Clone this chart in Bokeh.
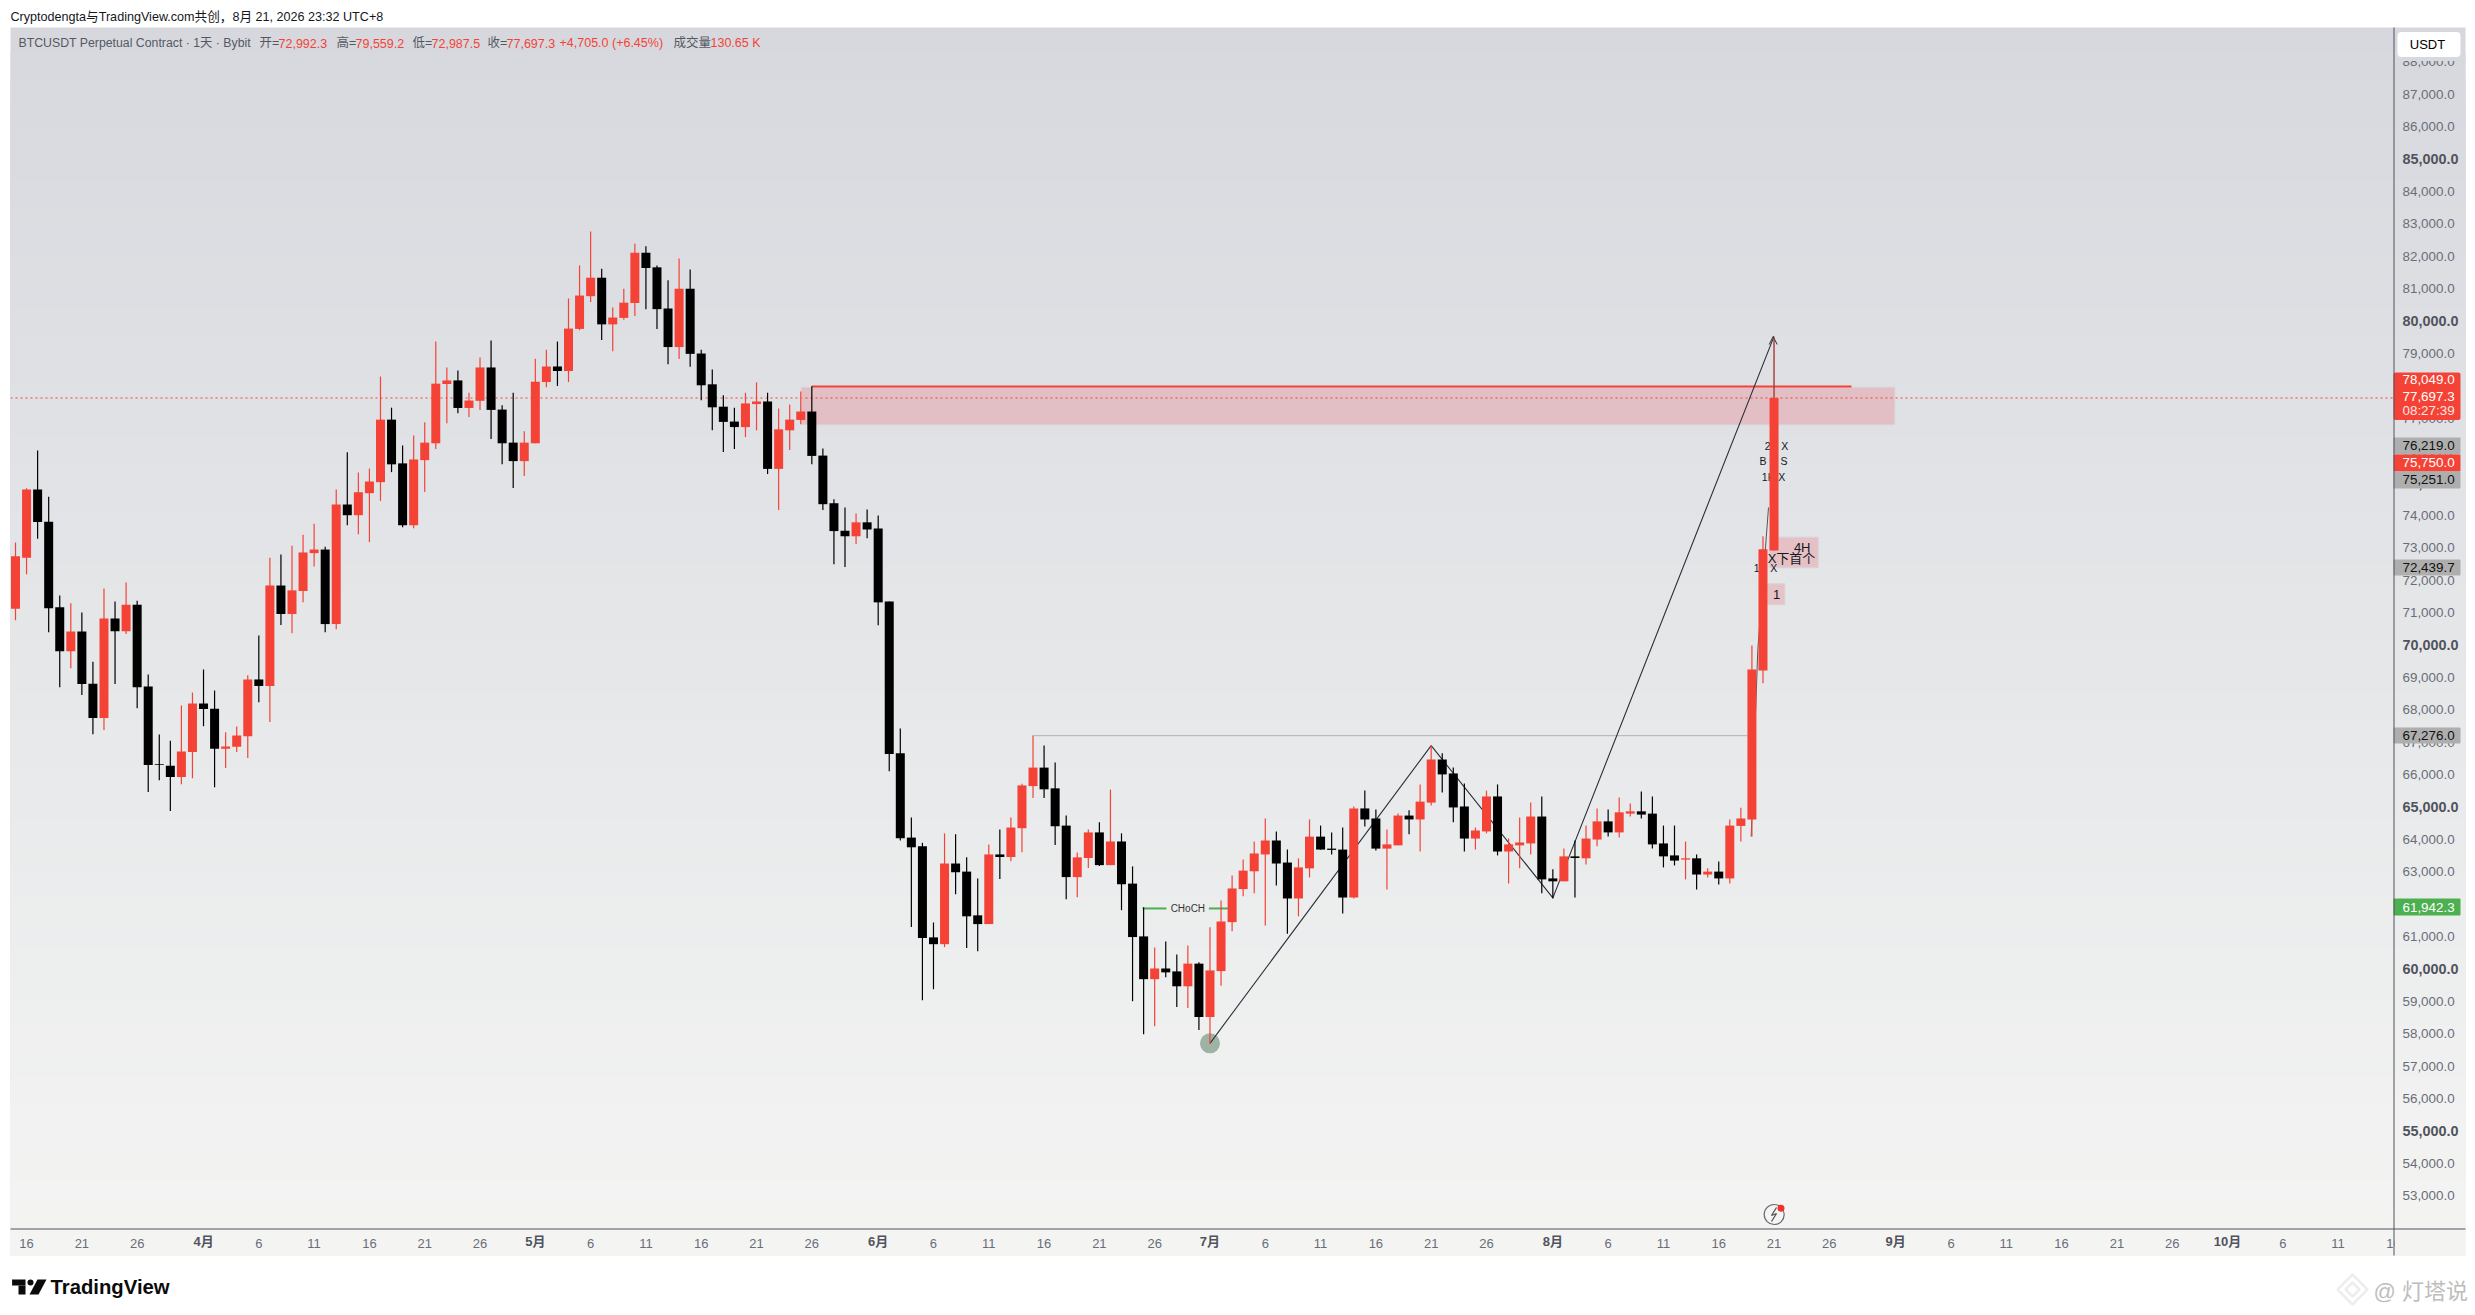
from bokeh.plotting import figure
from bokeh.models import (Range1d, FixedTicker, Label, BoxAnnotation, PolyAnnotation, LinearAxis)
from bokeh.core.properties import value
from bokeh.embed import file_html
from bokeh.resources import INLINE

opens = [
71190,72770,74870,73880,71240,69880,70490,68880,67820,70890,
70500,71320,68790,66390,66350,66000,66770,68270,68110,66870,
66930,67260,69010,68810,71910,71030,71740,72910,73020,70720,
74410,74080,74760,75100,77030,75680,73770,75780,76300,78130,
78240,77390,77610,78640,77340,76320,75750,76300,78190,78670,
78530,79830,80840,81410,79970,80170,80630,82180,81730,80460,
79270,81070,79070,78120,77430,76970,76800,77510,77590,75510,
76700,77020,77280,75920,74450,73600,73430,73860,73670,71420,
66730,64130,63860,61050,60840,63330,63080,61730,61460,63610,
63530,64420,65720,66290,65650,64500,62910,63500,64290,63280,
64010,62710,61080,59760,60090,60000,59540,60240,58590,60010,
61520,62540,63090,63610,64040,63360,62250,63180,64160,63790,
63760,62280,65030,64720,63790,63890,64810,64690,65210,66540,
66110,65090,64100,64320,65400,63700,63890,63950,64780,62870,
62780,63550,63490,64070,64630,64290,64870,64940,64870,63950,
63580,63450,63490,62990,63080,62870,64490,64690,69290,72992.3]
closes = [
72810,74870,73870,71210,69880,70490,68870,67820,70890,70500,
71320,68770,66370,66370,66000,66790,68270,68100,66870,66940,
67280,69010,68810,71910,71030,71760,72930,73020,70720,74410,
74080,74790,75120,77030,75650,73770,75800,76320,78140,78240,
77390,77620,78640,77330,76300,75750,76320,78200,78670,78530,
79840,80860,81410,79970,80180,80640,82180,81710,80440,79270,
81070,79060,78090,77410,76960,76800,77530,77590,75510,76730,
77030,77280,75910,74420,73590,73430,73860,73640,71390,66710,
64110,63830,61030,60840,63330,63060,61700,61460,63610,63530,
64440,65740,66290,65620,64480,62910,63520,64290,63280,64010,
62690,61060,59760,60090,59970,59540,60240,58590,60030,61540,
62560,63110,63640,64040,63330,62250,63210,64160,63760,63750,
62280,65030,64690,63790,63920,64810,64690,65240,66540,66080,
65060,64100,64350,65400,63700,63920,63980,64780,62840,62780,
63550,63500,64100,64630,64290,64910,64940,64840,63920,63550,
63420,63490,62990,63080,62870,64500,64720,69320,73030,77697.3]
highs = [
73240,74910,76080,74650,71600,71360,71080,69560,71820,71420,
72000,71440,69160,67310,67120,68210,68610,69320,68670,67380,
67560,69140,70370,72770,72870,73140,73480,73820,73110,74870,
76020,75400,75520,78360,77400,76230,76540,76950,79440,78640,
78550,77860,78950,79470,77470,77860,76670,78910,79190,79440,
80770,81790,82840,81690,80490,81070,82460,82380,81790,81330,
82000,81660,79190,78580,77780,77400,77860,78180,77860,77370,
77500,77900,78060,76140,74570,74320,74130,74260,74070,71420,
67500,64750,63970,61510,64260,64230,63520,62870,63920,64380,
64750,65790,67280,66970,66450,64810,63670,64380,64600,65610,
64260,63240,61980,60740,60920,60520,60800,60280,61360,62190,
62960,63450,64010,64720,64320,63760,63490,64690,64500,64290,
64440,65090,65580,65000,64380,64870,64970,65770,66970,66730,
66290,65800,64440,65580,65770,64100,64750,65210,65400,63150,
63790,64040,64500,65030,65000,65370,65180,65550,65400,64500,
64500,64010,63610,63180,63390,64690,65050,70060,73430,79559.2]
lows = [
70840,72260,73350,70470,68770,69360,68530,67320,67450,68870,
70410,68120,65540,65900,64950,65780,65960,67570,65680,66280,
66770,66590,68310,67700,70690,70440,71390,72500,70470,70560,
73770,73490,73250,74520,75410,73710,73680,74800,76120,76920,
77230,77110,77330,76430,75650,74920,75290,76300,78030,78070,
78190,79790,80660,79490,79140,80110,80230,80440,79830,78740,
78900,78660,77630,76700,76030,76120,76490,76700,75350,74240,
76090,76890,75650,74240,72570,72480,73190,73370,70680,66180,
64040,61370,59110,59450,60750,62380,60720,60620,61460,62850,
63400,63680,65350,65350,63900,62230,62290,63190,63250,63280,
61890,59080,58060,58310,59820,58900,58870,58190,57760,59560,
61240,62320,62410,61420,62650,61160,61700,62900,63760,63610,
61790,62250,64470,63730,62530,63890,64230,63700,65120,65520,
64600,63700,63760,64260,63580,62710,63180,63610,62410,62250,
62780,62280,63300,63860,64160,64130,64780,64720,63790,63210,
63270,62840,62530,62900,62680,62710,64010,64160,68890,72987.5]

tick_days = [1,6,11,17,22,27,32,37,42,47,52,57,62,67,72,78,83,88,93,98,103,108,113,118,123,128,133,
             139,144,149,154,159,164,170,175,180,185,190,195,200,205,210,215]
tick_labels = ["16","21","26","4月","6","11","16","21","26","5月","6","11","16","21","26","6月",
               "6","11","16","21","26","7月","6","11","16","21","26","8月","6","11","16","21","26",
               "9月","6","11","16","21","26","10月","6","11","16"]
price_ticks = list(range(53000, 89000, 1000))

zigzag_days = [108, 128, 139, 159]
zigzag_prices = [57780, 66970, 62270, 79600]
last_price = 77697.3
zone_top, zone_bottom = 78030, 76870
zone_line = 78049.0
swing_line = 67276.0
choch_line = 61942.3

RED = "#f44336"
FONT = "Liberation Sans, Noto Sans CJK SC"
GREY_TXT = "#6a6d78"
BOLD_TXT = "#50535e"
W, H = 2470, 1312
OVERLAY = {"position": "absolute", "left": "0px", "top": "0px"}
LABEL_LIFT = 68  # price-axis texts sit about 2 px above their level


def fx(px):
    return (px - 15) / 11.06


def fy(py):
    return 80000 - (py - 322.9) / 32.4 * 1000


def full_canvas():
    f = figure(width=W, height=H, output_backend="svg", toolbar_location=None,
               x_range=Range1d(fx(0), fx(W)), y_range=Range1d(fy(H), fy(0)),
               x_axis_type=None, y_axis_type=None, min_border=0,
               background_fill_color=None, border_fill_color=None, outline_line_color=None, styles=OVERLAY)
    f.grid.visible = False
    return f


# ---- back layer: panel gradient
back = full_canvas()
top_rgb, bot_rgb = (214, 216, 222), (244, 245, 243)
N = 48
for i in range(N):
    y0 = 27 + (1255 - 27) * i / N
    t = (i + 0.5) / N
    c = tuple(round(a + (b - a) * t) for a, b in zip(top_rgb, bot_rgb))
    back.quad(left=[fx(10)], right=[fx(2465)], top=[fy(y0)], bottom=[fy(1255)],
              fill_color="#%02x%02x%02x" % c, line_color=None)

# ---- main layer: chart with the axes
p = figure(width=W, height=H, output_backend="svg", toolbar_location=None,
           x_range=Range1d(fx(10), fx(2393)), y_range=Range1d(fy(1228), fy(27)),
           y_axis_location=None, min_border_left=10, min_border_top=27,
           min_border_right=W - 2393, min_border_bottom=H - 1228,
           background_fill_color=None, border_fill_color=None, outline_line_color=None, styles=OVERLAY)
p.grid.visible = False

xa = p.xaxis[0]
xa.ticker = FixedTicker(ticks=tick_days)
xa.major_label_overrides = {d: ("" if "月" in l else l) for d, l in zip(tick_days, tick_labels)}
xa.axis_line_color = None
xa.major_tick_line_color = None
xa.minor_tick_line_color = None
xa.major_label_standoff = 4
xa.major_label_text_font = FONT
xa.major_label_text_font_size = "13px"
xa.major_label_text_color = GREY_TXT

p.extra_y_ranges["labels"] = Range1d(fy(1228) - LABEL_LIFT, fy(27) - LABEL_LIFT)
ya = LinearAxis(y_range_name="labels")
ya.ticker = FixedTicker(ticks=price_ticks)
ya.major_label_overrides = {v: ("" if v % 5000 == 0 else f"{v:,.1f}") for v in price_ticks}
ya.axis_line_color = None
ya.major_tick_line_color = None
ya.minor_tick_line_color = None
ya.major_label_standoff = 3
ya.major_label_text_font = FONT
ya.major_label_text_font_size = "13.4px"
ya.major_label_text_color = GREY_TXT
p.add_layout(ya, "right")

# zone, levels and drawings below the candles
p.line([fx(10), fx(2393)], [last_price, last_price], line_color=RED, line_width=1, line_dash="2 3")
p.quad(left=[fx(800.7)], right=[fx(1894.3)], top=[zone_top], bottom=[zone_bottom], fill_color="#f23645",
       fill_alpha=0.2, line_color="#d9d3d8", line_width=1)
p.line([72, 166], [zone_line, zone_line], line_color=RED, line_width=2)
p.line([92, 156.6], [swing_line, swing_line], line_color="#b2b3b3", line_width=1)
p.line([101.9, 104.06], [choch_line, choch_line], line_color="#4caf50", line_width=2)
p.line([107.9, 110], [choch_line, choch_line], line_color="#4caf50", line_width=2)
p.text([106], [choch_line], text=["CHoCH"], text_font=value(FONT), text_font_size="10px", text_color="#333333",
       text_align="center", text_baseline="middle")
p.scatter([108], [57780], size=20, marker="circle", fill_color="#9db3a3", line_color=None)
p.line(zigzag_days, zigzag_prices, line_color="#2a2e39", line_width=1.1)
p.line([fx(1768.7), fx(1772.7), fx(1776.7)], [fy(344), fy(336), fy(344)], line_color="#2a2e39", line_width=1)
p.line([fx(1750.7), fx(1757.3), fx(1768)], [fy(836), fy(649), fy(507)], line_color="#555555", line_width=1)

p.quad(left=[fx(1768.7), fx(1766.7)], right=[fx(1817.7), fx(1784.3)], top=[fy(536.7), fy(583.3)],
       bottom=[fy(567.3), fy(604.3)], fill_color="#f23645", fill_alpha=0.2, line_color="#d9d3d8", line_width=1)
for px, py, s, size in [(1776, 445, "2H X", 10.5), (1773, 460, "B O S", 10.5), (1773, 476.7, "1H X", 10.5),
                        (1765, 567, "1H X", 10.5), (1801.7, 546.7, "4H", 13), (1791, 558, "X下首个", 13),
                        (1776, 594, "1", 13)]:
    p.text([fx(px)], [fy(py)], text=[s], text_font=value(FONT), text_font_size=f"{size}px", text_color="#131722",
           text_align="center", text_baseline="middle")

# candles
days = list(range(len(opens)))
up = [i for i in days if closes[i] >= opens[i]]
down = [i for i in days if closes[i] < opens[i]]
for idx, col in ((down, "#000000"), (up, RED)):
    p.segment([days[i] for i in idx], [highs[i] for i in idx], [days[i] for i in idx], [lows[i] for i in idx],
              line_color=col, line_width=1.2)
    p.vbar([days[i] for i in idx], 0.814, [max(opens[i], closes[i]) for i in idx],
           [min(opens[i], closes[i]) for i in idx], fill_color=col, line_color=None)
p.line([159, 159], [closes[159], highs[159]], line_color="#333333", line_alpha=0.55, line_width=1)

# lightning badge
p.scatter([fx(1773.7)], [fy(1214)], size=20, marker="circle", fill_color="#f4f5f3", line_color="#6d6472", line_width=1.2)
p.line([fx(1776), fx(1771), fx(1776), fx(1771)], [fy(1207), fy(1215), fy(1213), fy(1221)], line_color="#555555",
       line_width=1.3)
p.scatter([fx(1780.5)], [fy(1207.7)], size=7, marker="circle", fill_color="#f23030", line_color=None)

# ---- front layer: tags, header, footer
front = full_canvas()


def txt(x, y, s, size=13.4, color="black", bold=False, align="left", baseline="middle"):
    front.add_layout(Label(x=x, y=y, text=s, text_font=FONT, text_font_size=f"{size}px", text_color=color,
                           text_font_style="bold" if bold else "normal", text_align=align, text_baseline=baseline))


def box(l, r, t, b, color, radius=0):
    front.add_layout(BoxAnnotation(left=fx(l), right=fx(r), top=fy(t), bottom=fy(b), fill_color=color, fill_alpha=1,
                                   line_color=None, border_radius=radius))


for d, l in zip(tick_days, tick_labels):
    if "月" in l:
        txt(d, fy(1240.5), l, 13, BOLD_TXT, True, "center")
for v in price_ticks:
    if v % 5000 == 0:
        txt(fx(2402), v + LABEL_LIFT, f"{v:,.1f}", 14.4, BOLD_TXT, True)

box(2394, 2465, 1229, 1255, "#f3f4f2")
box(2394, 2465, 56, 60.5, "#d7d9df")
box(2397, 2460, 31.5, 56.5, "white", 4)
txt(fx(2427), fy(44), "USDT", 13, "black", False, "center")
box(2393, 2460, 372, 419.5, RED, 2)
txt(fx(2402), fy(379), "78,049.0", 13.4, "white")
txt(fx(2402), fy(396), "77,697.3", 13.4, "white")
txt(fx(2402), fy(410), "08:27:39", 13.4, "#ffe4e2")
box(2393, 2460, 437, 454, "#aeaeae", 1)
txt(fx(2402), fy(444.7), "76,219.0", 13.4, "#111111")
box(2393, 2460, 454, 471, RED, 1)
txt(fx(2402), fy(461.7), "75,750.0", 13.4, "white")
box(2393, 2460, 471, 488, "#aeaeae", 1)
txt(fx(2402), fy(478.8), "75,251.0", 13.4, "#111111")
box(2393, 2460, 559, 575, "#aeaeae", 1)
txt(fx(2402), fy(566.5), "72,439.7", 13.4, "#111111")
box(2393, 2460, 727, 743, "#aeaeae", 1)
txt(fx(2402), fy(734.8), "67,276.0", 13.4, "#111111")
box(2393, 2460, 898, 915, "#4caf50", 1)
txt(fx(2402), fy(906.5), "61,942.3", 13.4, "white")

box(2393, 2394, 27, 1255, "#50535e")
box(10, 2465, 1228, 1229, "#50535e")

txt(fx(10), fy(16), "Cryptodengta与TradingView.com共创，8月 21, 2026 23:32 UTC+8", 12.6, "#131722")
for px, s, c, sz in [(18, "BTCUSDT Perpetual Contract · 1天 · Bybit", "#555863", 12.3), (259, "开=", "#555863", 12.5),
                     (278, "72,992.3", RED, 12.5), (336, "高=", "#555863", 12.5), (355, "79,559.2", RED, 12.5),
                     (412, "低=", "#555863", 12.5), (431, "72,987.5", RED, 12.5), (487, "收=", "#555863", 12.5),
                     (506, "77,697.3", RED, 12.5), (559, "+4,705.0 (+6.45%)", RED, 12.5), (673, "成交量", "#555863", 12.5),
                     (710, "130.65 K", RED, 12.5)]:
    txt(fx(px), fy(42.7), s, sz, c)

box(11.6, 25, 1279, 1285, "#0b0b0b")
box(18, 25, 1285, 1294, "#0b0b0b")
box(27, 33, 1279, 1285, "#0b0b0b", 3)
front.add_layout(PolyAnnotation(xs=[fx(37), fx(46), fx(38), fx(29)], ys=[fy(1279), fy(1279), fy(1294), fy(1294)],
                                fill_color="#0b0b0b", fill_alpha=1, line_color=None))
txt(fx(50), fy(1286), "TradingView", 20.3, "#0b0b0b", True)
for r in (15, 7):
    front.add_layout(PolyAnnotation(xs=[fx(2352), fx(2352 + r), fx(2352), fx(2352 - r)],
                                    ys=[fy(1289 - r), fy(1289), fy(1289 + r), fy(1289)],
                                    fill_alpha=0, line_color="#c4c4c4", line_width=2.5))
txt(fx(2373), fy(1291), "@ 灯塔说", 22, "#bdbdbd")

open("out.html", "w").write(file_html([back, p, front], INLINE))
